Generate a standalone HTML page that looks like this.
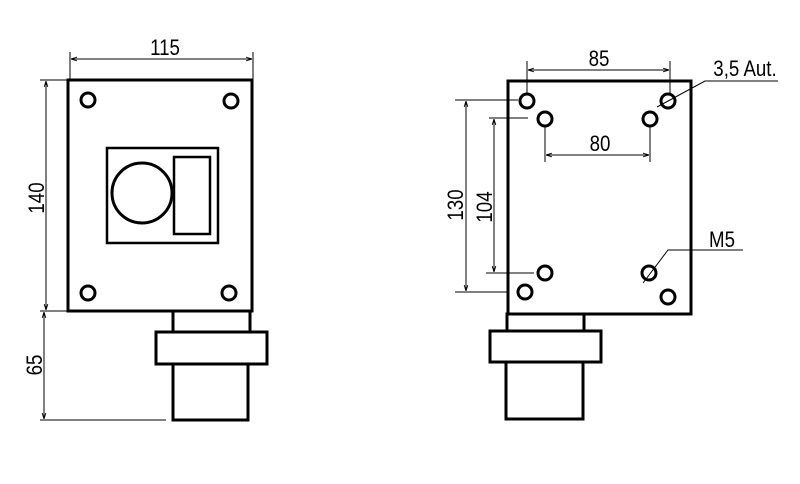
<!DOCTYPE html>
<html><head><meta charset="utf-8"><style>html,body{margin:0;padding:0;background:#fff}svg{display:block}</style></head><body>
<svg width="800" height="484" viewBox="0 0 800 484" xmlns="http://www.w3.org/2000/svg">
<defs>
<marker id="a" viewBox="0 0 10 10" refX="10" refY="5" markerWidth="6" markerHeight="6" orient="auto-start-reverse"><path d="M0,2 L10,5 L0,8" fill="none" stroke="#000" stroke-width="1.5"/></marker>
</defs>
<g fill="none" stroke="#000" stroke-width="3">
<rect x="68" y="80" width="184" height="231"/>
<rect x="107" y="148" width="111" height="95" stroke-width="2.5"/>
<circle cx="142" cy="193" r="30"/>
<rect x="174" y="157" width="36" height="77" stroke-width="2.5"/>
<circle cx="88" cy="100" r="7"/><circle cx="231" cy="101" r="7"/>
<circle cx="88" cy="293" r="7"/><circle cx="229" cy="293" r="7"/>
<rect x="173" y="311" width="77" height="21"/>
<rect x="156" y="332" width="111" height="32"/>
<rect x="173" y="364" width="75" height="56"/>
<rect x="508" y="81" width="183" height="233"/>
<circle cx="527" cy="101" r="7"/><circle cx="545" cy="119" r="7"/>
<circle cx="650" cy="119" r="7"/><circle cx="668" cy="101" r="7"/>
<circle cx="545" cy="273" r="7"/><circle cx="649" cy="273" r="7"/>
<circle cx="525" cy="292" r="7"/><circle cx="668" cy="297" r="7"/>
<rect x="507" y="314" width="77" height="17"/>
<rect x="490" y="331" width="111" height="31"/>
<rect x="506" y="362" width="77" height="57"/>
</g>
<g fill="none" stroke="#000" stroke-width="1">
<line x1="70" y1="52" x2="70" y2="80"/><line x1="253" y1="52" x2="253" y2="80"/>
<line x1="71" y1="59" x2="252" y2="59" marker-start="url(#a)" marker-end="url(#a)"/>
<line x1="40" y1="80" x2="68" y2="80"/><line x1="40" y1="311" x2="68" y2="311"/>
<line x1="46" y1="81" x2="46" y2="310" marker-start="url(#a)" marker-end="url(#a)"/>
<line x1="44" y1="312" x2="44" y2="419" marker-start="url(#a)" marker-end="url(#a)"/>
<line x1="40" y1="420" x2="166" y2="420"/>
<line x1="527" y1="61" x2="527" y2="94"/><line x1="670" y1="61" x2="670" y2="94"/>
<line x1="528" y1="70" x2="669" y2="70" marker-start="url(#a)" marker-end="url(#a)"/>
<line x1="545" y1="127" x2="545" y2="162"/><line x1="650" y1="127" x2="650" y2="162"/>
<line x1="546" y1="155" x2="649" y2="155" marker-start="url(#a)" marker-end="url(#a)"/>
<line x1="455" y1="100" x2="518" y2="100"/><line x1="455" y1="292" x2="507" y2="292"/>
<line x1="466" y1="101" x2="466" y2="291" marker-start="url(#a)" marker-end="url(#a)"/>
<line x1="489" y1="118" x2="528" y2="118"/><line x1="486" y1="273" x2="534" y2="273"/>
<line x1="494" y1="119" x2="494" y2="272" marker-start="url(#a)" marker-end="url(#a)"/>
<polyline points="657,107 705,81 778,81"/>
<polyline points="643,283 668,250 743,250"/>
</g>
<g font-family="Liberation Sans, sans-serif" font-size="22" fill="#000" text-anchor="middle">
<text transform="translate(165 55) scale(0.85 1)">115</text>
<text transform="translate(44 198) rotate(-90) scale(0.85 1)">140</text>
<text transform="translate(42 365) rotate(-90) scale(0.85 1)">65</text>
<text transform="translate(599 66) scale(0.85 1)">85</text>
<text transform="translate(600 151) scale(0.85 1)">80</text>
<text transform="translate(745 76) scale(0.85 1)">3,5 Aut.</text>
<text transform="translate(722 247) scale(0.85 1)">M5</text>
<text transform="translate(463 205) rotate(-90) scale(0.85 1)">130</text>
<text transform="translate(492 207) rotate(-90) scale(0.85 1)">104</text>
</g>
</svg>
</body></html>
